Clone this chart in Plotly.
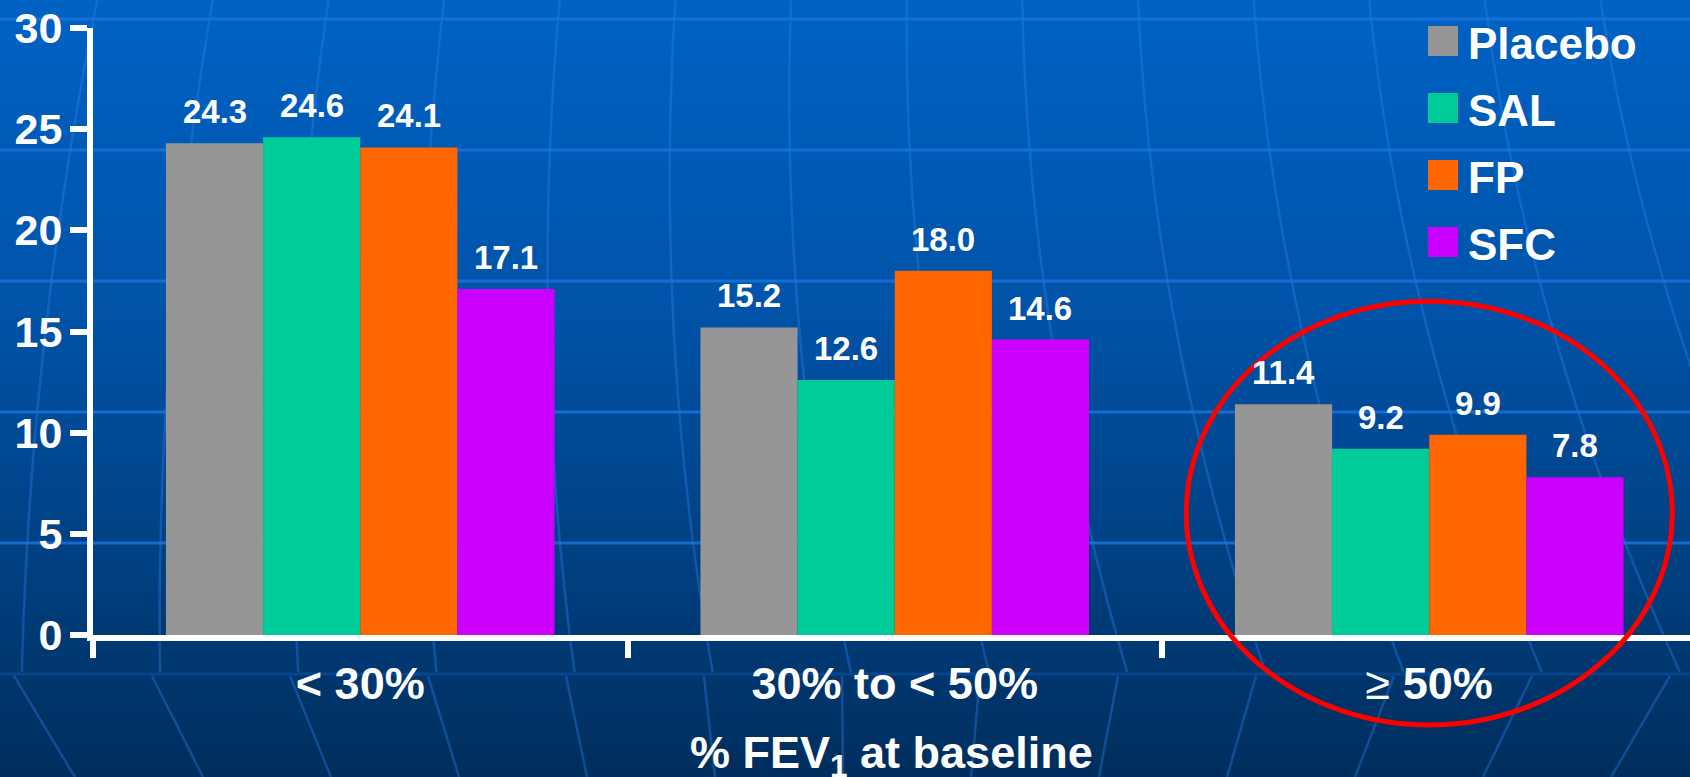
import base64
import numpy as np
import plotly.graph_objects as go

# ---- data -------------------------------------------------------------
categories = ["< 30%", "30% to < 50%", "≥ 50%"]
series_names = ["Placebo", "SAL", "FP", "SFC"]
placebo = [24.3, 15.2, 11.4]
sal = [24.6, 12.6, 9.2]
fp = [24.1, 18.0, 9.9]
sfc = [17.1, 14.6, 7.8]
series_values = [placebo, sal, fp, sfc]
series_colors = ["#969696", "#00CC99", "#FF6600", "#CC00FF"]
y_ticks = [0, 5, 10, 15, 20, 25, 30]
x_title = "% FEV<sub>1</sub> at baseline"

# ---- layout geometry ----------------------------------------------------
W, H = 1690, 777
M_L, M_R, M_T, M_B = 93, 0, 28, 142
PLOT_W = W - M_L - M_R
PLOT_H = H - M_T - M_B
CAT_PX = 534.5                    # width of one category band
X_RANGE = [-0.5, -0.5 + PLOT_W / CAT_PX]
Y_RANGE = [0, 30]
BARGAP = 0.273
FONT = "Liberation Sans, Arial, sans-serif"


def px_to_paper_x(px):
    return (px - M_L) / PLOT_W


def px_to_paper_y(py):
    return (H - M_B - py) / PLOT_H


def data_to_paper_x(x):
    return (x - X_RANGE[0]) / (X_RANGE[1] - X_RANGE[0])


def data_to_paper_y(y):
    return (y - Y_RANGE[0]) / (Y_RANGE[1] - Y_RANGE[0])


def tick_label(cat):
    s = cat.replace("<", "&lt;")
    s = s.replace("≥", "<span style='font-weight:normal'>≥</span>")
    return s


# ---- background: blue gradient with a faint globe grid -----------------
def background_svg():
    parts = [
        f'<svg xmlns="http://www.w3.org/2000/svg" width="{W}" height="{H}" '
        f'viewBox="0 0 {W} {H}" preserveAspectRatio="none">',
        '<defs><linearGradient id="g" x1="0" y1="0" x2="0" y2="1">'
        '<stop offset="0" stop-color="#0062C4"/>'
        '<stop offset="0.4" stop-color="#0053A8"/>'
        '<stop offset="0.75" stop-color="#003E7E"/>'
        '<stop offset="1" stop-color="#002E5C"/>'
        '</linearGradient></defs>',
        f'<rect x="0" y="0" width="{W}" height="{H}" fill="url(#g)"/>',
    ]
    # meridians: centre and spacing drift with height
    ys = np.linspace(0, 672, 40)
    c_knots_y = [0, 330, 580, 672]
    c_knots = [792, 795, 842, 845]
    s_knots = [116, 124, 138, 136]
    cc = np.polyval(np.polyfit(c_knots_y, c_knots, 2), ys)
    ss = np.polyval(np.polyfit(c_knots_y, s_knots, 2), ys)
    ys2 = np.linspace(676, H, 10)
    cc2 = np.linspace(842, 843, 10)
    ss2 = np.linspace(138, 128, 10)
    paths = []
    for k in range(-8, 9):
        pts = " ".join(f"{c + k * s:.1f},{y:.1f}" for c, s, y in zip(cc, ss, ys))
        paths.append(f'<polyline points="{pts}"/>')
        pts2 = " ".join(f"{c + k * s:.1f},{y:.1f}" for c, s, y in zip(cc2, ss2, ys2))
        paths.append(f'<polyline points="{pts2}"/>')
    parts.append('<g stroke="#2C86F0" stroke-opacity="0.35" stroke-width="2.5" fill="none">'
                 + "".join(paths) + "</g>")
    # parallels
    hl = []
    for y, op in [(19, 0.8), (150, 0.8), (281, 0.8), (412, 0.8), (543, 0.8), (674, 0.25)]:
        hl.append(f'<line x1="0" y1="{y}" x2="{W}" y2="{y}" stroke-opacity="{op}"/>')
    parts.append('<g stroke="#1A74DE" stroke-width="3">' + "".join(hl) + "</g>")
    parts.append("</svg>")
    return "".join(parts)


bg_uri = "data:image/svg+xml;base64," + base64.b64encode(background_svg().encode()).decode()

# ---- figure ---------------------------------------------------------------
fig = go.Figure()
for name, vals, color in zip(series_names, series_values, series_colors):
    fig.add_trace(go.Bar(
        name=name, x=categories, y=vals,
        marker=dict(color=color, line=dict(width=0)),
        showlegend=False, hoverinfo="x+y+name",
    ))

annotations = []

# value labels above each bar
n = len(series_names)
bar_w = (1 - BARGAP) / n
for j, vals in enumerate(series_values):
    off = (j - (n - 1) / 2) * bar_w
    for i, v in enumerate(vals):
        annotations.append(dict(
            x=i + off, y=v, xref="x", yref="y", text=f"{v:.1f}",
            showarrow=False, xanchor="center", yanchor="bottom", yshift=11,
            font=dict(family=FONT, size=33, color="white", weight="bold"),
        ))

# legend: coloured squares with labels, top right
shapes = []
LEG_X, LEG_SQ, LEG_Y0, LEG_DY = 1428, 30, 41, 67
for k, (name, color) in enumerate(zip(series_names, series_colors)):
    cy = LEG_Y0 + k * LEG_DY
    shapes.append(dict(
        type="rect", xref="paper", yref="paper",
        x0=px_to_paper_x(LEG_X), x1=px_to_paper_x(LEG_X + LEG_SQ),
        y0=px_to_paper_y(cy + LEG_SQ / 2), y1=px_to_paper_y(cy - LEG_SQ / 2),
        fillcolor=color, line=dict(width=0), layer="above",
    ))
    annotations.append(dict(
        x=px_to_paper_x(LEG_X + LEG_SQ + 8), y=px_to_paper_y(cy + 2), xref="paper", yref="paper",
        text=name, showarrow=False, xanchor="left", yanchor="middle",
        font=dict(family=FONT, size=44, color="white", weight="bold"),
    ))

# red ring around the >= 50% group
ring_cx, ring_rx = 2, 243 / CAT_PX
ring_y0, ring_y1 = -4.45, 16.5
shapes.append(dict(
    type="circle", xref="paper", yref="paper",
    x0=data_to_paper_x(ring_cx - ring_rx), x1=data_to_paper_x(ring_cx + ring_rx),
    y0=data_to_paper_y(ring_y0), y1=data_to_paper_y(ring_y1),
    line=dict(color="#FF0000", width=5), layer="above",
))

# axis title
annotations.append(dict(
    x=0.5, y=px_to_paper_y(755), xref="paper", yref="paper",
    text=x_title, showarrow=False, xanchor="center", yanchor="middle",
    font=dict(family=FONT, size=45, color="white", weight="bold"),
))

fig.update_layout(
    width=W, height=H,
    margin=dict(l=M_L, r=M_R, t=M_T, b=M_B, pad=0),
    paper_bgcolor="#004A96",
    plot_bgcolor="rgba(0,0,0,0)",
    barmode="group", bargap=BARGAP, bargroupgap=0,
    showlegend=False,
    font=dict(family=FONT, color="white"),
    images=[dict(
        source=bg_uri, xref="paper", yref="paper",
        x=px_to_paper_x(0), y=px_to_paper_y(0),
        sizex=W / PLOT_W, sizey=H / PLOT_H,
        xanchor="left", yanchor="top", sizing="stretch", layer="below",
    )],
    shapes=shapes,
    annotations=annotations,
    xaxis=dict(
        type="category", range=X_RANGE, autorange=False,
        tickmode="array", tickvals=categories, ticktext=[tick_label(c) for c in categories],
        tickson="boundaries", ticks="outside", ticklen=17, tickwidth=6, tickcolor="white",
        showline=True, linecolor="white", linewidth=6,
        showgrid=False, zeroline=False,
        tickfont=dict(family=FONT, size=45, color="white", weight="bold"),
        ticklabelstandoff=4,
    ),
    yaxis=dict(
        range=Y_RANGE, autorange=False, tickmode="array", tickvals=y_ticks,
        ticks="outside", ticklen=17, tickwidth=6, tickcolor="white",
        showline=True, linecolor="white", linewidth=6,
        showgrid=False, zeroline=False,
        tickfont=dict(family=FONT, size=43, color="white", weight="bold"),
        ticklabelstandoff=-1,
    ),
)

fig.write_html("out.html")
